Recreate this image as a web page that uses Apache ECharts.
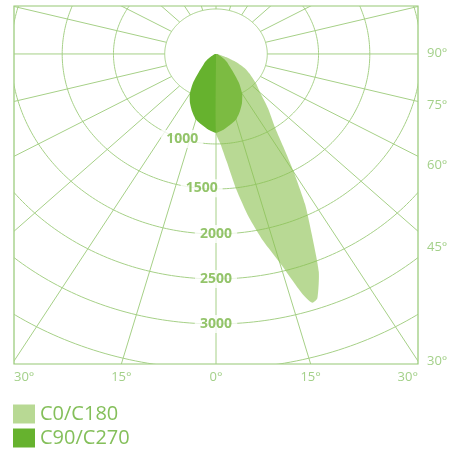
<!DOCTYPE html>
<html><head><meta charset="utf-8">
<script src="https://cdn.jsdelivr.net/npm/echarts@6/dist/echarts.min.js"></script>
<style>html,body{margin:0;padding:0;background:#fff}#c{width:455px;height:450px}</style>
</head><body><div id="c"></div>
<script>
// ---- data (gamma angle in degrees, negative = C180 / C270 side; intensity in cd) ----
const seriesNames = ['C0/C180', 'C90/C270'];
const c0Angles = [-90, -45, -5, 0, 2.5, 5, 7.5, 10, 12.5, 15, 17.5, 18.75, 20, 22.5, 25, 27.5, 30, 32.5, 35, 40, 45, 50, 55, 60, 65, 70, 75, 80, 85, 90];
const c0Values = [0, 0, 0, 880, 1000, 1200, 1520, 1840, 2130, 2400, 2790, 2920, 2890, 2620, 2210, 1880, 1520, 1220, 1010, 790, 610, 510, 415, 330, 220, 110, 50, 20, 5, 0];
const c90Angles = [-90, -80, -70, -60, -55, -50, -45, -40, -35, -30, -25, -20, -15, -10, -5, 0, 5, 10, 15, 20, 25, 30, 35, 40, 45, 50, 55, 60, 70, 80, 90];
const c90Values = [0, 8, 25, 60, 100, 140, 180, 260, 390, 510, 600, 680, 755, 800, 845, 875, 845, 800, 755, 680, 600, 510, 390, 260, 180, 140, 100, 60, 25, 8, 0];
const ringValues = [500, 1000, 1500, 2000, 2500, 3000, 3500];
const ringLabelValues = [1000, 1500, 2000, 2500, 3000];
const radialAngles = [-165, -150, -135, -120, -105, -90, -75, -60, -45, -30, -15, 0, 15, 30, 45, 60, 75, 90, 105, 120, 135, 150, 165, 180];
const rightAngleLabels = [90, 75, 60, 45, 30];
const bottomAngleLabels = [-30, -15, 0, 15, 30];

// ---- styling ----
const X_MAX = 1970, Y_MIN = -3445, Y_MAX = 533;
const gridColor = '#a6d087';
const frameColor = '#95c874';
const ringLabelShift = {1000: -330, 1500: -140};   // label placement (data units along x)
const rightLabelNudge = [-1, 4, 9, 16, 0];          // px
const R_INNER = 500, R_OUTER = 8000;

const rad = d => d * Math.PI / 180;
const toXY = (a, v) => [v * Math.sin(rad(a)), -v * Math.cos(rad(a))];
const c0Points = c0Angles.map((a, i) => toXY(a, c0Values[i]));
const c90Points = c90Angles.map((a, i) => toXY(a, c90Values[i]));

function gridRender(params, api) {
  if (params.dataIndex !== 0) return null;
  const children = [];
  ringValues.forEach(r => {
    const pts = [];
    for (let a = 0; a <= 360; a += 1) pts.push(api.coord(toXY(a, r)));
    children.push({type: 'polyline', shape: {points: pts}, style: {stroke: gridColor, lineWidth: 1, fill: null}});
  });
  radialAngles.forEach(a => {
    const p1 = api.coord(toXY(a, R_INNER)), p2 = api.coord(toXY(a, R_OUTER));
    children.push({type: 'line', shape: {x1: p1[0], y1: p1[1], x2: p2[0], y2: p2[1]}, style: {stroke: gridColor, lineWidth: 1}});
  });
  return {type: 'group', children};
}
function polyRender(points, fill) {
  return function (params, api) {
    if (params.dataIndex !== 0) return null;
    return {type: 'polygon', shape: {points: points.map(p => api.coord(p)), smooth: 0.2},
            style: {fill: fill, stroke: null}};
  };
}

const ringLabelData = ringLabelValues.map(v => {
  const sx = ringLabelShift[v] || 0;
  return {value: [sx, -Math.sqrt(v * v - sx * sx)], name: String(v)};
});
const rightLabelData = rightAngleLabels.map((a, i) => ({
  value: [X_MAX, a === 90 ? 0 : -X_MAX / Math.tan(rad(a))],
  name: a + '°',
  label: {offset: [0, rightLabelNudge[i]]}
}));
const bottomLabelData = bottomAngleLabels.map(a => {
  let x = -Y_MIN * Math.tan(rad(a));
  let align = 'center';
  if (x >= X_MAX) { x = X_MAX; align = 'right'; }
  if (x <= -X_MAX) { x = -X_MAX; align = 'left'; }
  return {value: [x, Y_MIN], name: Math.abs(a) + '°', label: {align: align}};
});

const chart = echarts.init(document.getElementById('c'), null, {renderer: 'canvas'});
chart.setOption({
  animation: false,
  grid: {left: 14, right: 37, top: 6, bottom: 86, show: true, borderColor: frameColor, borderWidth: 1.2, backgroundColor: 'transparent'},
  xAxis: {type: 'value', min: -X_MAX, max: X_MAX, show: false},
  yAxis: {type: 'value', min: Y_MIN, max: Y_MAX, show: false},
  legend: {
    data: seriesNames, orient: 'vertical', left: 13, top: 404, height: 46, padding: 0, icon: 'rect',
    itemWidth: 22, itemHeight: 19, itemGap: 4,
    textStyle: {fontFamily: 'Open Sans', fontSize: 20, lineHeight: 19, color: '#84bf5a'},
    selectedMode: false
  },
  series: [
    {type: 'custom', name: 'grid', silent: true, clip: true, z: 1, data: [[0, 0]], renderItem: gridRender},
    {type: 'custom', name: seriesNames[1], silent: true, clip: true, z: 2, itemStyle: {color: '#66b22e'},
     data: c90Points, renderItem: polyRender(c90Points, '#66b22e')},
    {type: 'custom', name: seriesNames[0], silent: true, clip: true, z: 3, itemStyle: {color: '#b8d994'},
     data: c0Points, renderItem: polyRender(c0Points, 'rgba(139,193,80,0.61)')},
    {type: 'scatter', name: 'ringLabels', silent: true, z: 5, symbolSize: 0, data: ringLabelData,
     label: {show: true, position: 'inside', formatter: p => p.name, fontFamily: 'Open Sans', fontWeight: 'bold',
             fontSize: 14, color: '#78b545', backgroundColor: '#ffffff', padding: [2, 5]}},
    {type: 'scatter', name: 'rightLabels', silent: true, z: 5, symbolSize: 0, clip: false, data: rightLabelData,
     label: {show: true, position: 'right', distance: 9, formatter: p => p.name, fontFamily: 'Open Sans',
             fontSize: 13, color: '#8cc46b'}},
    {type: 'scatter', name: 'bottomLabels', silent: true, z: 5, symbolSize: 0, clip: false, data: bottomLabelData,
     label: {show: true, position: 'bottom', distance: 7, formatter: p => p.name, fontFamily: 'Open Sans',
             fontSize: 13, color: '#8cc46b'}}
  ]
});
</script></body></html>
